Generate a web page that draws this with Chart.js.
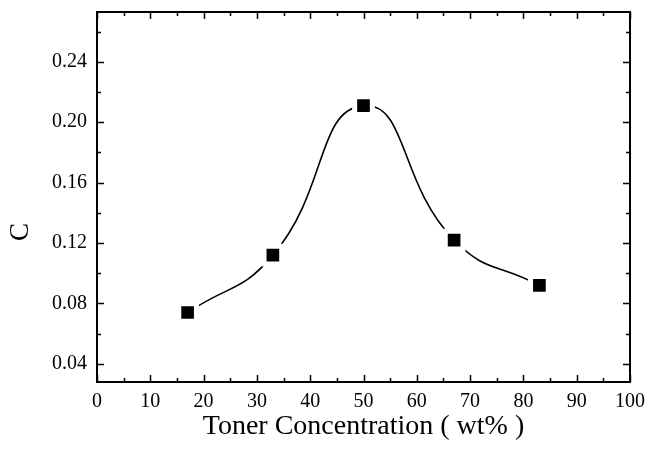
<!DOCTYPE html>
<html>
<head>
<meta charset="utf-8">
<script src="https://cdn.jsdelivr.net/npm/chart.js@4"></script>
<style>
  html, body { margin: 0; padding: 0; background: #fff; }
</style>
</head>
<body>
<canvas id="chart" width="650" height="454"></canvas>
<script>
// data
const concentrations = [17, 33, 50, 67, 83];
const cValues = [0.074, 0.112, 0.211, 0.122, 0.092];

// axis ticks
const xTicks = [0, 10, 20, 30, 40, 50, 60, 70, 80, 90, 100];
const xMinorTicks = [5, 15, 25, 35, 45, 55, 65, 75, 85, 95];
const yTicks = [0.04, 0.08, 0.12, 0.16, 0.20, 0.24];
const yMinorTicks = [0.06, 0.10, 0.14, 0.18, 0.22, 0.26];

const FONT = "'Liberation Serif', 'Times New Roman', serif";

// frame + inward ticks on all four sides, like an Origin plot
const framePlugin = {
    id: 'frame',
    afterDraw(chart) {
        const ctx = chart.ctx;
        const a = chart.chartArea;
        const xs = chart.scales.x, ys = chart.scales.y;
        ctx.save();
        ctx.strokeStyle = '#000';
        ctx.lineWidth = 1.5;
        ctx.beginPath();
        const tick = (vals, len, horiz) => {
            vals.forEach(v => {
                if (horiz) {
                    const px = Math.round(xs.getPixelForValue(v)) + 0.5;
                    ctx.moveTo(px, a.bottom); ctx.lineTo(px, a.bottom - len);
                    ctx.moveTo(px, a.top); ctx.lineTo(px, a.top + len);
                } else {
                    const py = Math.round(ys.getPixelForValue(v)) + 0.5;
                    ctx.moveTo(a.left, py); ctx.lineTo(a.left + len, py);
                    ctx.moveTo(a.right, py); ctx.lineTo(a.right - len, py);
                }
            });
        };
        tick(xTicks, 7, true);
        tick(xMinorTicks, 4, true);
        tick(yTicks, 7, false);
        tick(yMinorTicks, 4, false);
        ctx.stroke();

        ctx.lineWidth = 2;
        ctx.strokeRect(a.left, a.top, a.right - a.left, a.bottom - a.top);

        // y axis title sits a bit below the middle in the original
        ctx.fillStyle = '#000';
        ctx.font = '27px ' + FONT;
        ctx.textAlign = 'center';
        ctx.textBaseline = 'middle';
        ctx.translate(21, 232);
        ctx.rotate(-Math.PI / 2);
        ctx.fillText('C', 0, 0);
        ctx.restore();
    }
};

new Chart(document.getElementById('chart'), {
    type: 'line',
    data: {
        labels: concentrations,
        datasets: [{
            data: concentrations.map((x, i) => ({ x: x, y: cValues[i] })),
            borderColor: '#000',
            borderWidth: 1.6,
            tension: 0.5,
            pointStyle: 'rect',
            pointRadius: 12.5,
            pointBackgroundColor: '#000',
            pointBorderColor: '#fff',
            pointBorderWidth: 5,
            fill: false
        }]
    },
    options: {
        responsive: false,
        animation: false,
        events: [],
        layout: { autoPadding: false, padding: { top: 12, right: 20, left: 0, bottom: 0 } },
        plugins: {
            legend: { display: false },
            tooltip: { enabled: false }
        },
        scales: {
            x: {
                type: 'linear',
                min: 0,
                max: 100,
                afterBuildTicks: s => { s.ticks = xTicks.map(v => ({ value: v })); },
                afterFit: s => { s.height = 72; s.paddingLeft = 0; s.paddingRight = 0; },
                grid: { display: false, drawTicks: false },
                border: { display: false },
                ticks: { color: '#000', padding: 8, font: { family: FONT, size: 20 } },
                title: {
                    display: true,
                    text: 'Toner Concentration ( wt% )',
                    color: '#000',
                    font: { family: FONT, size: 28 },
                    padding: { top: 0, bottom: 11 }
                }
            },
            y: {
                type: 'linear',
                min: 0.028,
                max: 0.273,
                afterBuildTicks: s => { s.ticks = yTicks.map(v => ({ value: v })); },
                afterFit: s => { s.width = 97; s.paddingTop = 0; s.paddingBottom = 0; },
                grid: { display: false, drawTicks: false },
                border: { display: false },
                ticks: {
                    color: '#000',
                    padding: 10,
                    font: { family: FONT, size: 20 },
                    callback: v => v.toFixed(2)
                }
            }
        }
    },
    plugins: [framePlugin]
});
</script>
</body>
</html>
